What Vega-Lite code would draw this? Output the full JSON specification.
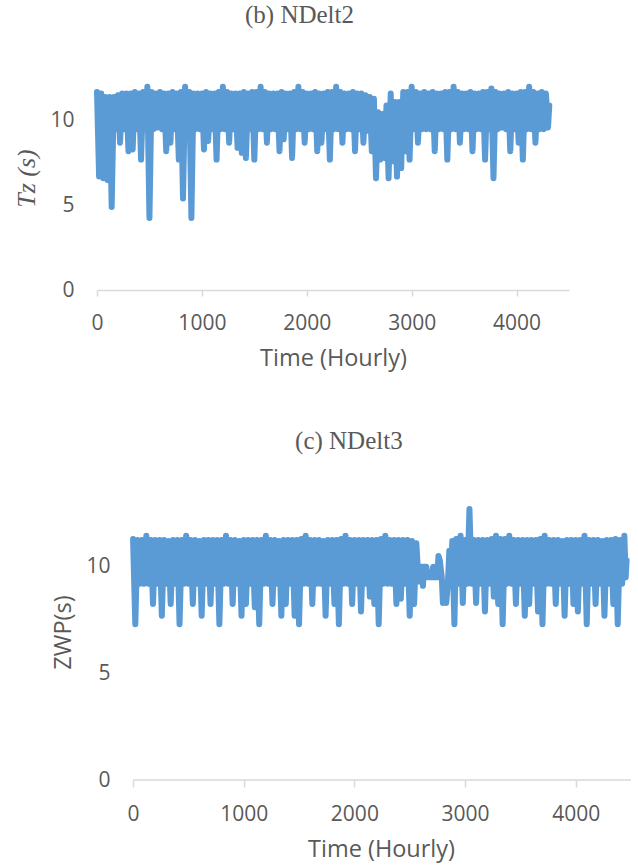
{
 "$schema": "https://vega.github.io/schema/vega-lite/v6.json",
 "autosize": {"type": "none"},
 "padding": {"left": 97, "top": 36, "right": 541, "bottom": 829},
 "background": "white",
 "spacing": 59,
 "config": {
  "view": {"stroke": null},
  "axis": {"labelFont": "Open Sans", "labelColor": "#595959", "labelFontSize": 21, "titleFont": "Open Sans", "titleColor": "#595959", "titleFontSize": 23.5, "titleFontWeight": "normal", "grid": false, "domainColor": "#D9D9D9", "tickColor": "#D9D9D9", "domainWidth": 1.5, "tickWidth": 1.5, "format": "d"},
  "title": {"font": "Liberation Serif", "fontSize": 25, "fontWeight": "normal", "color": "#595959"}
 },
 "datasets": {
  "b": [{"t":0,"v":11.7},{"t":20,"v":6.7},{"t":40,"v":11.6},{"t":60,"v":6.6},{"t":80,"v":11.4},{"t":100,"v":6.5},{"t":120,"v":11.4},{"t":140,"v":4.9},{"t":160,"v":11.4},{"t":180,"v":9.5},{"t":200,"v":11.5},{"t":220,"v":8.7},{"t":240,"v":11.6},{"t":260,"v":9.5},{"t":280,"v":11.6},{"t":300,"v":8.2},{"t":320,"v":11.6},{"t":340,"v":8.3},{"t":360,"v":11.7},{"t":380,"v":9.5},{"t":400,"v":11.6},{"t":420,"v":7.7},{"t":440,"v":11.7},{"t":460,"v":9.5},{"t":480,"v":12.0},{"t":500,"v":4.25},{"t":520,"v":11.7},{"t":540,"v":9.5},{"t":560,"v":11.6},{"t":580,"v":9.6},{"t":600,"v":11.7},{"t":620,"v":9.5},{"t":640,"v":11.6},{"t":660,"v":8.2},{"t":680,"v":11.6},{"t":700,"v":8.7},{"t":720,"v":11.7},{"t":740,"v":9.5},{"t":760,"v":11.6},{"t":780,"v":7.7},{"t":800,"v":11.7},{"t":820,"v":5.4},{"t":840,"v":12.0},{"t":860,"v":9.5},{"t":880,"v":11.7},{"t":900,"v":4.25},{"t":920,"v":11.6},{"t":940,"v":9.5},{"t":960,"v":11.6},{"t":980,"v":9.5},{"t":1000,"v":11.6},{"t":1020,"v":8.3},{"t":1040,"v":11.7},{"t":1060,"v":8.8},{"t":1080,"v":11.6},{"t":1100,"v":9.5},{"t":1120,"v":11.6},{"t":1140,"v":7.7},{"t":1160,"v":11.7},{"t":1180,"v":9.5},{"t":1200,"v":12.0},{"t":1220,"v":9.5},{"t":1240,"v":11.7},{"t":1260,"v":8.7},{"t":1280,"v":11.6},{"t":1300,"v":9.5},{"t":1320,"v":11.6},{"t":1340,"v":8.4},{"t":1360,"v":11.6},{"t":1380,"v":8.1},{"t":1400,"v":11.7},{"t":1420,"v":7.8},{"t":1440,"v":11.6},{"t":1460,"v":9.5},{"t":1480,"v":11.7},{"t":1500,"v":7.7},{"t":1520,"v":11.7},{"t":1540,"v":9.5},{"t":1560,"v":12.0},{"t":1580,"v":9.5},{"t":1600,"v":11.7},{"t":1620,"v":8.7},{"t":1640,"v":11.6},{"t":1660,"v":9.5},{"t":1680,"v":11.6},{"t":1700,"v":9.5},{"t":1720,"v":11.6},{"t":1740,"v":8.2},{"t":1760,"v":11.7},{"t":1780,"v":8.9},{"t":1800,"v":11.6},{"t":1820,"v":9.5},{"t":1840,"v":11.6},{"t":1860,"v":7.8},{"t":1880,"v":11.7},{"t":1900,"v":9.5},{"t":1920,"v":12.0},{"t":1940,"v":9.5},{"t":1960,"v":11.7},{"t":1980,"v":8.7},{"t":2000,"v":11.6},{"t":2020,"v":9.5},{"t":2040,"v":11.6},{"t":2060,"v":9.5},{"t":2080,"v":11.7},{"t":2100,"v":8.2},{"t":2120,"v":11.6},{"t":2140,"v":8.7},{"t":2160,"v":11.6},{"t":2180,"v":9.5},{"t":2200,"v":11.7},{"t":2220,"v":7.7},{"t":2240,"v":11.7},{"t":2260,"v":9.5},{"t":2280,"v":12.0},{"t":2300,"v":9.5},{"t":2320,"v":11.7},{"t":2340,"v":8.7},{"t":2360,"v":11.6},{"t":2380,"v":9.5},{"t":2400,"v":11.6},{"t":2420,"v":9.5},{"t":2440,"v":11.7},{"t":2460,"v":8.2},{"t":2480,"v":11.6},{"t":2500,"v":9.5},{"t":2520,"v":11.6},{"t":2540,"v":8.7},{"t":2560,"v":11.5},{"t":2580,"v":9.4},{"t":2600,"v":11.4},{"t":2620,"v":8.2},{"t":2640,"v":11.3},{"t":2660,"v":6.6},{"t":2680,"v":10.5},{"t":2700,"v":7.7},{"t":2720,"v":10.4},{"t":2740,"v":7.8},{"t":2760,"v":10.9},{"t":2780,"v":6.6},{"t":2800,"v":11.6},{"t":2820,"v":7.6},{"t":2840,"v":11.1},{"t":2860,"v":6.7},{"t":2880,"v":11.1},{"t":2900,"v":7.2},{"t":2920,"v":11.7},{"t":2940,"v":8.2},{"t":2960,"v":11.7},{"t":2980,"v":7.7},{"t":3000,"v":12.0},{"t":3020,"v":9.5},{"t":3040,"v":11.7},{"t":3060,"v":8.7},{"t":3080,"v":11.6},{"t":3100,"v":9.5},{"t":3120,"v":11.7},{"t":3140,"v":9.5},{"t":3160,"v":11.6},{"t":3180,"v":9.5},{"t":3200,"v":11.7},{"t":3220,"v":8.2},{"t":3240,"v":11.6},{"t":3260,"v":9.5},{"t":3280,"v":11.6},{"t":3300,"v":9.5},{"t":3320,"v":11.7},{"t":3340,"v":7.7},{"t":3360,"v":11.7},{"t":3380,"v":9.5},{"t":3400,"v":12.0},{"t":3420,"v":9.5},{"t":3440,"v":11.7},{"t":3460,"v":8.7},{"t":3480,"v":11.6},{"t":3500,"v":9.5},{"t":3520,"v":11.6},{"t":3540,"v":9.5},{"t":3560,"v":11.7},{"t":3580,"v":8.2},{"t":3600,"v":11.6},{"t":3620,"v":9.5},{"t":3640,"v":11.6},{"t":3660,"v":9.5},{"t":3680,"v":11.7},{"t":3700,"v":7.7},{"t":3720,"v":11.7},{"t":3740,"v":9.5},{"t":3760,"v":11.9},{"t":3780,"v":6.6},{"t":3800,"v":11.7},{"t":3820,"v":9.5},{"t":3840,"v":11.6},{"t":3860,"v":9.6},{"t":3880,"v":11.6},{"t":3900,"v":9.5},{"t":3920,"v":11.7},{"t":3940,"v":8.2},{"t":3960,"v":11.6},{"t":3980,"v":9.5},{"t":4000,"v":11.6},{"t":4020,"v":8.7},{"t":4040,"v":11.7},{"t":4060,"v":7.7},{"t":4080,"v":11.7},{"t":4100,"v":9.5},{"t":4120,"v":12.0},{"t":4140,"v":9.5},{"t":4160,"v":11.7},{"t":4180,"v":8.7},{"t":4200,"v":11.6},{"t":4220,"v":9.5},{"t":4240,"v":11.7},{"t":4260,"v":9.5},{"t":4280,"v":11.6},{"t":4300,"v":9.6},{"t":4312,"v":10.9}],
  "c": [{"t":0,"v":11.3},{"t":20,"v":7.3},{"t":40,"v":11.25},{"t":60,"v":9.2},{"t":80,"v":11.25},{"t":100,"v":9.2},{"t":120,"v":11.45},{"t":140,"v":9.2},{"t":160,"v":11.25},{"t":180,"v":8.25},{"t":200,"v":11.25},{"t":220,"v":9.2},{"t":240,"v":11.25},{"t":260,"v":7.7},{"t":280,"v":11.25},{"t":300,"v":9.2},{"t":320,"v":11.2},{"t":340,"v":8.25},{"t":360,"v":11.25},{"t":380,"v":9.2},{"t":400,"v":11.25},{"t":420,"v":7.3},{"t":440,"v":11.25},{"t":460,"v":9.2},{"t":480,"v":11.45},{"t":500,"v":9.2},{"t":520,"v":11.25},{"t":540,"v":8.25},{"t":560,"v":11.25},{"t":580,"v":9.2},{"t":600,"v":11.2},{"t":620,"v":7.7},{"t":640,"v":11.25},{"t":660,"v":9.2},{"t":680,"v":11.25},{"t":700,"v":8.25},{"t":720,"v":11.25},{"t":740,"v":9.2},{"t":760,"v":11.25},{"t":780,"v":7.3},{"t":800,"v":11.25},{"t":820,"v":9.2},{"t":840,"v":11.45},{"t":860,"v":9.2},{"t":880,"v":11.25},{"t":900,"v":8.25},{"t":920,"v":11.25},{"t":940,"v":9.2},{"t":960,"v":11.2},{"t":980,"v":7.7},{"t":1000,"v":11.25},{"t":1020,"v":8.25},{"t":1040,"v":11.25},{"t":1060,"v":9.2},{"t":1080,"v":11.25},{"t":1100,"v":8.1},{"t":1120,"v":11.25},{"t":1140,"v":7.3},{"t":1160,"v":11.25},{"t":1180,"v":9.2},{"t":1200,"v":11.45},{"t":1220,"v":9.2},{"t":1240,"v":11.25},{"t":1260,"v":8.25},{"t":1280,"v":11.25},{"t":1300,"v":9.2},{"t":1320,"v":11.2},{"t":1340,"v":7.7},{"t":1360,"v":11.25},{"t":1380,"v":8.25},{"t":1400,"v":11.25},{"t":1420,"v":9.2},{"t":1440,"v":11.25},{"t":1460,"v":7.7},{"t":1480,"v":11.25},{"t":1500,"v":7.3},{"t":1520,"v":11.3},{"t":1540,"v":9.2},{"t":1560,"v":11.45},{"t":1580,"v":9.2},{"t":1600,"v":11.25},{"t":1620,"v":8.25},{"t":1640,"v":11.25},{"t":1660,"v":9.2},{"t":1680,"v":11.25},{"t":1700,"v":9.2},{"t":1720,"v":11.2},{"t":1740,"v":7.7},{"t":1760,"v":11.25},{"t":1780,"v":9.2},{"t":1800,"v":11.25},{"t":1820,"v":8.25},{"t":1840,"v":11.25},{"t":1860,"v":7.3},{"t":1880,"v":11.3},{"t":1900,"v":9.2},{"t":1920,"v":11.45},{"t":1940,"v":9.2},{"t":1960,"v":11.25},{"t":1980,"v":8.25},{"t":2000,"v":11.25},{"t":2020,"v":9.2},{"t":2040,"v":11.25},{"t":2060,"v":7.9},{"t":2080,"v":11.25},{"t":2100,"v":9.2},{"t":2120,"v":11.25},{"t":2140,"v":8.6},{"t":2160,"v":11.25},{"t":2180,"v":8.25},{"t":2200,"v":11.25},{"t":2220,"v":7.3},{"t":2240,"v":11.3},{"t":2260,"v":9.2},{"t":2280,"v":11.45},{"t":2300,"v":9.2},{"t":2320,"v":11.25},{"t":2340,"v":9.2},{"t":2360,"v":11.25},{"t":2380,"v":8.25},{"t":2400,"v":11.25},{"t":2420,"v":8.5},{"t":2440,"v":11.25},{"t":2460,"v":9.2},{"t":2480,"v":11.25},{"t":2500,"v":7.7},{"t":2520,"v":11.2},{"t":2540,"v":8.25},{"t":2560,"v":11.1},{"t":2580,"v":9.3},{"t":2590,"v":10.0},{"t":2612,"v":10.0},{"t":2620,"v":9.1},{"t":2628,"v":10.0},{"t":2650,"v":10.0},{"t":2660,"v":9.5},{"t":2700,"v":9.5},{"t":2712,"v":10.0},{"t":2722,"v":9.5},{"t":2748,"v":9.5},{"t":2760,"v":10.5},{"t":2772,"v":10.3},{"t":2790,"v":9.5},{"t":2800,"v":8.3},{"t":2815,"v":8.7},{"t":2830,"v":8.3},{"t":2845,"v":9.2},{"t":2858,"v":10.75},{"t":2870,"v":9.2},{"t":2885,"v":11.2},{"t":2904,"v":7.3},{"t":2920,"v":11.3},{"t":2940,"v":9.2},{"t":2960,"v":11.45},{"t":2980,"v":8.3},{"t":3000,"v":11.25},{"t":3020,"v":9.2},{"t":3040,"v":12.7},{"t":3060,"v":9.2},{"t":3080,"v":11.25},{"t":3100,"v":8.3},{"t":3120,"v":11.25},{"t":3140,"v":9.2},{"t":3160,"v":11.25},{"t":3180,"v":7.9},{"t":3200,"v":11.25},{"t":3220,"v":9.2},{"t":3240,"v":11.3},{"t":3260,"v":8.6},{"t":3280,"v":11.45},{"t":3300,"v":8.25},{"t":3320,"v":11.3},{"t":3340,"v":7.3},{"t":3360,"v":11.3},{"t":3380,"v":9.2},{"t":3400,"v":11.45},{"t":3420,"v":9.2},{"t":3440,"v":11.25},{"t":3460,"v":8.25},{"t":3480,"v":11.25},{"t":3500,"v":9.2},{"t":3520,"v":11.25},{"t":3540,"v":7.7},{"t":3560,"v":11.25},{"t":3580,"v":8.25},{"t":3600,"v":11.25},{"t":3620,"v":9.2},{"t":3640,"v":11.25},{"t":3660,"v":7.9},{"t":3680,"v":11.3},{"t":3700,"v":7.3},{"t":3720,"v":11.45},{"t":3740,"v":9.2},{"t":3760,"v":11.25},{"t":3780,"v":9.2},{"t":3800,"v":11.25},{"t":3820,"v":8.25},{"t":3840,"v":11.25},{"t":3860,"v":9.2},{"t":3880,"v":11.2},{"t":3900,"v":7.7},{"t":3920,"v":11.25},{"t":3940,"v":9.2},{"t":3960,"v":11.25},{"t":3980,"v":8.25},{"t":4000,"v":11.25},{"t":4020,"v":7.9},{"t":4040,"v":11.25},{"t":4060,"v":9.2},{"t":4080,"v":11.45},{"t":4100,"v":7.3},{"t":4120,"v":11.25},{"t":4140,"v":9.2},{"t":4160,"v":11.25},{"t":4180,"v":8.25},{"t":4200,"v":11.25},{"t":4220,"v":9.2},{"t":4240,"v":11.2},{"t":4260,"v":7.7},{"t":4280,"v":11.25},{"t":4300,"v":9.2},{"t":4320,"v":11.25},{"t":4340,"v":8.25},{"t":4360,"v":11.3},{"t":4380,"v":7.3},{"t":4400,"v":11.25},{"t":4420,"v":9.2},{"t":4440,"v":11.45},{"t":4452,"v":9.5},{"t":4460,"v":10.3}],
  "axisline": [{"t": 0, "t2": 4500, "v": 0}]
 },
 "vconcat": [
  {
   "title": {"text": "(b) NDelt2", "anchor": "middle", "frame": "bounds", "offset": 8, "dx": 8},
   "width": 472,
   "height": 254,
   "data": {"name": "b"},
   "mark": {"type": "line", "color": "#5B9BD5", "strokeWidth": 6, "strokeCap": "round", "strokeJoin": "round"},
   "encoding": {
    "x": {"field": "t", "type": "quantitative", "scale": {"domain": [0, 4500], "nice": false, "zero": false},
          "axis": {"values": [0, 1000, 2000, 3000, 4000], "title": "Time (Hourly)", "tickSize": 6, "labelPadding": 16, "titlePadding": 13, "labelFlush": false}},
    "y": {"field": "v", "type": "quantitative", "scale": {"domain": [0, 15], "nice": false},
          "axis": {"values": [0, 5, 10], "title": "Tz (s)", "domain": false, "ticks": false, "labelPadding": 23, "titlePadding": 10, "titleFont": "Liberation Serif", "titleFontStyle": "italic", "titleFontSize": 26, "titleY": 142}}
   }
  },
  {
   "title": {"text": "(c) NDelt3", "anchor": "middle", "frame": "bounds", "offset": 6, "dx": 7},
   "width": 534,
   "height": 320,
   "layer": [
    {
     "data": {"name": "c"},
     "mark": {"type": "line", "color": "#5B9BD5", "strokeWidth": 6, "strokeCap": "round", "strokeJoin": "round"},
     "encoding": {
      "x": {"field": "t", "type": "quantitative", "scale": {"domain": [-326, 4500], "nice": false, "zero": false},
            "axis": {"values": [0, 1000, 2000, 3000, 4000], "title": "Time (Hourly)", "domain": false, "tickSize": 7, "labelPadding": 16, "titlePadding": 13, "labelFlush": false, "titleX": 284}},
      "y": {"field": "v", "type": "quantitative", "scale": {"domain": [0, 15], "nice": false},
            "axis": {"values": [0, 5, 10], "title": "ZWP(s)", "domain": false, "ticks": false, "labelPadding": 23, "titlePadding": 10, "offset": -36, "titleY": 172}}
     }
    },
    {
     "data": {"name": "axisline"},
     "mark": {"type": "rule", "color": "#D9D9D9", "strokeWidth": 1.5},
     "encoding": {
      "x": {"field": "t", "type": "quantitative"},
      "x2": {"field": "t2"},
      "y": {"field": "v", "type": "quantitative"}
     }
    }
   ]
  }
 ]
}
